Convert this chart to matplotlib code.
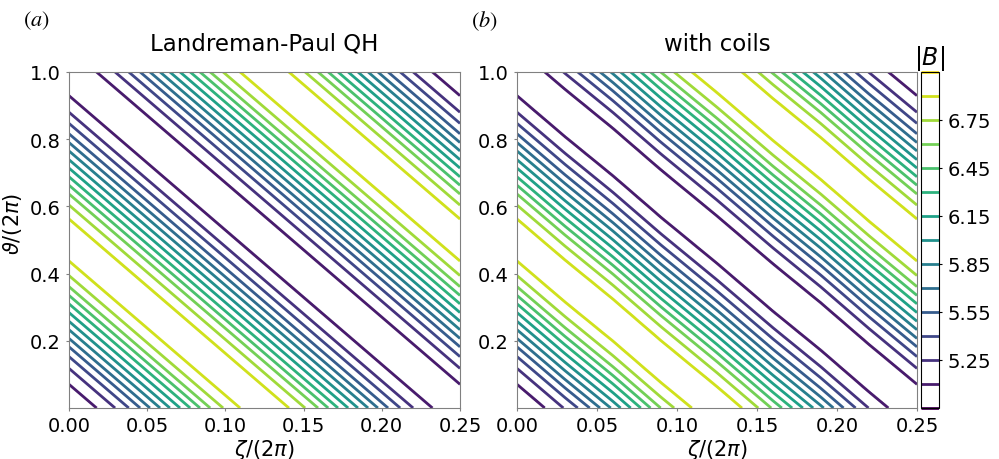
import numpy as np
import matplotlib

matplotlib.use("Agg")
import matplotlib.pyplot as plt

# |B| along the helical angle chi = theta/(2pi) + 4*zeta/(2pi)
chi_nodes = [0.0, 0.071, 0.118, 0.153, 0.182, 0.207, 0.233, 0.258, 0.284, 0.310,
             0.335, 0.361, 0.394, 0.437, 0.5, 0.563, 0.604, 0.637, 0.663, 0.688,
             0.714, 0.739, 0.765, 0.790, 0.816, 0.847, 0.880, 0.929, 1.0]
b_nodes = [5.01, 5.10, 5.25, 5.40, 5.55, 5.70, 5.85, 6.00, 6.15, 6.30,
           6.45, 6.60, 6.75, 6.90, 6.98, 6.90, 6.75, 6.60, 6.45, 6.30,
           6.15, 6.00, 5.85, 5.70, 5.55, 5.40, 5.25, 5.10, 5.01]
helicity = 4

# small shift of the helical angle from coil ripple, vs zeta/(2pi)
coil_zeta = [0.0, 0.03, 0.06, 0.09, 0.125, 0.16, 0.19, 0.22, 0.25]
coil_shift = [0.0, 0.002, -0.0015, 0.002, -0.001, 0.0015, -0.002, 0.0015, 0.0]

levels = [4.95, 5.10, 5.25, 5.40, 5.55, 5.70, 5.85, 6.00, 6.15, 6.30,
          6.45, 6.60, 6.75, 6.90, 7.05]
cbar_ticks = [5.25, 5.55, 5.85, 6.15, 6.45, 6.75]
titles = ["Landreman-Paul QH", "with coils"]
panel_tags = ["$(a)$", "$(b)$"]

zeta = np.linspace(0, 0.25, 300)
theta = np.linspace(0, 1, 600)
Z, T = np.meshgrid(zeta, theta)


def modB(shift):
    chi = np.mod(T + helicity * Z + shift, 1.0)
    return np.interp(chi, chi_nodes, b_nodes)


fields = [modB(0.0), modB(np.interp(Z, coil_zeta, coil_shift))]

fig = plt.figure(figsize=(9.99, 4.6), dpi=100)
W, H = 999, 460
boxes = [(69, 460), (517, 917)]
top, bottom = 73, 409

for i, (x0, x1) in enumerate(boxes):
    ax = fig.add_axes([x0 / W, 1 - bottom / H, (x1 - x0) / W, (bottom - top) / H])
    cs = ax.contour(Z, T, fields[i], levels=levels, cmap="viridis",
                    vmin=levels[0], vmax=levels[-1], linewidths=2)
    ax.set_xlim(0, 0.25)
    ax.set_ylim(0, 1)
    ax.set_xticks([0.0, 0.05, 0.10, 0.15, 0.20, 0.25])
    ax.set_yticks([0.2, 0.4, 0.6, 0.8, 1.0])
    ax.set_xticklabels(["0.00", "0.05", "0.10", "0.15", "0.20", "0.25"])
    ax.tick_params(labelsize=14, length=2.5, color="gray")
    for s in ax.spines.values():
        s.set_color("gray")
    ax.set_xlabel(r"$\zeta/(2\pi)$", fontsize=15, labelpad=1)
    if i == 0:
        ax.set_ylabel(r"$\vartheta/(2\pi)$", fontsize=15)
        ax.yaxis.set_label_coords(-0.115, 0.55)
    ax.set_title(titles[i], fontsize=16.5, pad=16)
    fig.text((x0 - 33) / W, 1 - 21 / H, panel_tags[i], fontsize=16,
             math_fontfamily="stix", ha="center", va="center")

cax = fig.add_axes([921 / W, 1 - bottom / H, 18 / W, (bottom - top) / H])
cb = fig.colorbar(cs, cax=cax, ticks=cbar_ticks)
cb.ax.tick_params(labelsize=14, length=2.5)
cb.ax.set_yticklabels([f"{t:.2f}" for t in cbar_ticks])
cb.ax.set_title("$|B|$", fontsize=17, pad=1)

fig.savefig("out.png", dpi=100)
